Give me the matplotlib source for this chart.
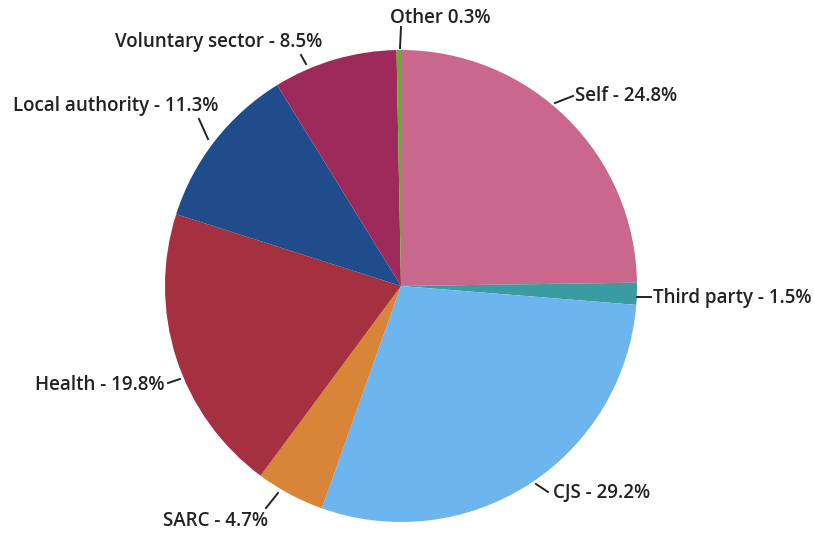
import matplotlib.pyplot as plt

categories = ["Self", "Third party", "CJS", "SARC", "Health",
              "Local authority", "Voluntary sector", "Other"]
shares = [24.8, 1.5, 29.2, 4.7, 19.8, 11.3, 8.5, 0.3]
labels = ["Self - 24.8%", "Third party - 1.5%", "CJS - 29.2%", "SARC - 4.7%",
          "Health - 19.8%", "Local authority - 11.3%",
          "Voluntary sector - 8.5%", "Other 0.3%"]
colors = ["#C9678D", "#3A9CA3", "#6DB5EF", "#D98538", "#A5303F",
          "#1F4C8A", "#9E2A5B", "#6BA83C"]

W, H = 814, 535
CX, CY, R = 401, 286, 236

# label layout in pixel coords (top-left origin): text left/centre, leader segment
text_pos = [(575, 96), (653, 298), (553, 493), (163, 521),
            (35, 385), (13, 106), (115, 42), (390, 18)]
leaders = [((555, 103), (573, 96)), ((637, 297), (651, 297)),
           ((536, 484), (548, 492)), ((278, 493), (266, 508)),
           ((168, 383), (180, 379)), ((199, 119), (208, 139)),
           ((301, 55), (306, 64)), ((401, 27), (400, 48))]


def py(y):
    return H - y


fig = plt.figure(figsize=(W / 100, H / 100), dpi=100)
ax = fig.add_axes([0, 0, 1, 1])
ax.set_xlim(0, W)
ax.set_ylim(0, H)
ax.set_aspect("equal")
ax.axis("off")

ax.pie(shares, colors=colors, startangle=90, counterclock=False,
       center=(CX, py(CY)), radius=R, wedgeprops=dict(linewidth=0))
ax.set_xlim(0, W)
ax.set_ylim(0, H)

for text, (tx, ty), ((x0, y0), (x1, y1)) in zip(labels, text_pos, leaders):
    ax.plot([x0, x1], [py(y0), py(y1)], color="#222222", lw=1.4)
    ax.text(tx, py(ty), text, ha="left", va="center", fontsize=13.5,
            family="Open Sans", weight="semibold", color="#222222")

fig.savefig("out.png", dpi=100)
